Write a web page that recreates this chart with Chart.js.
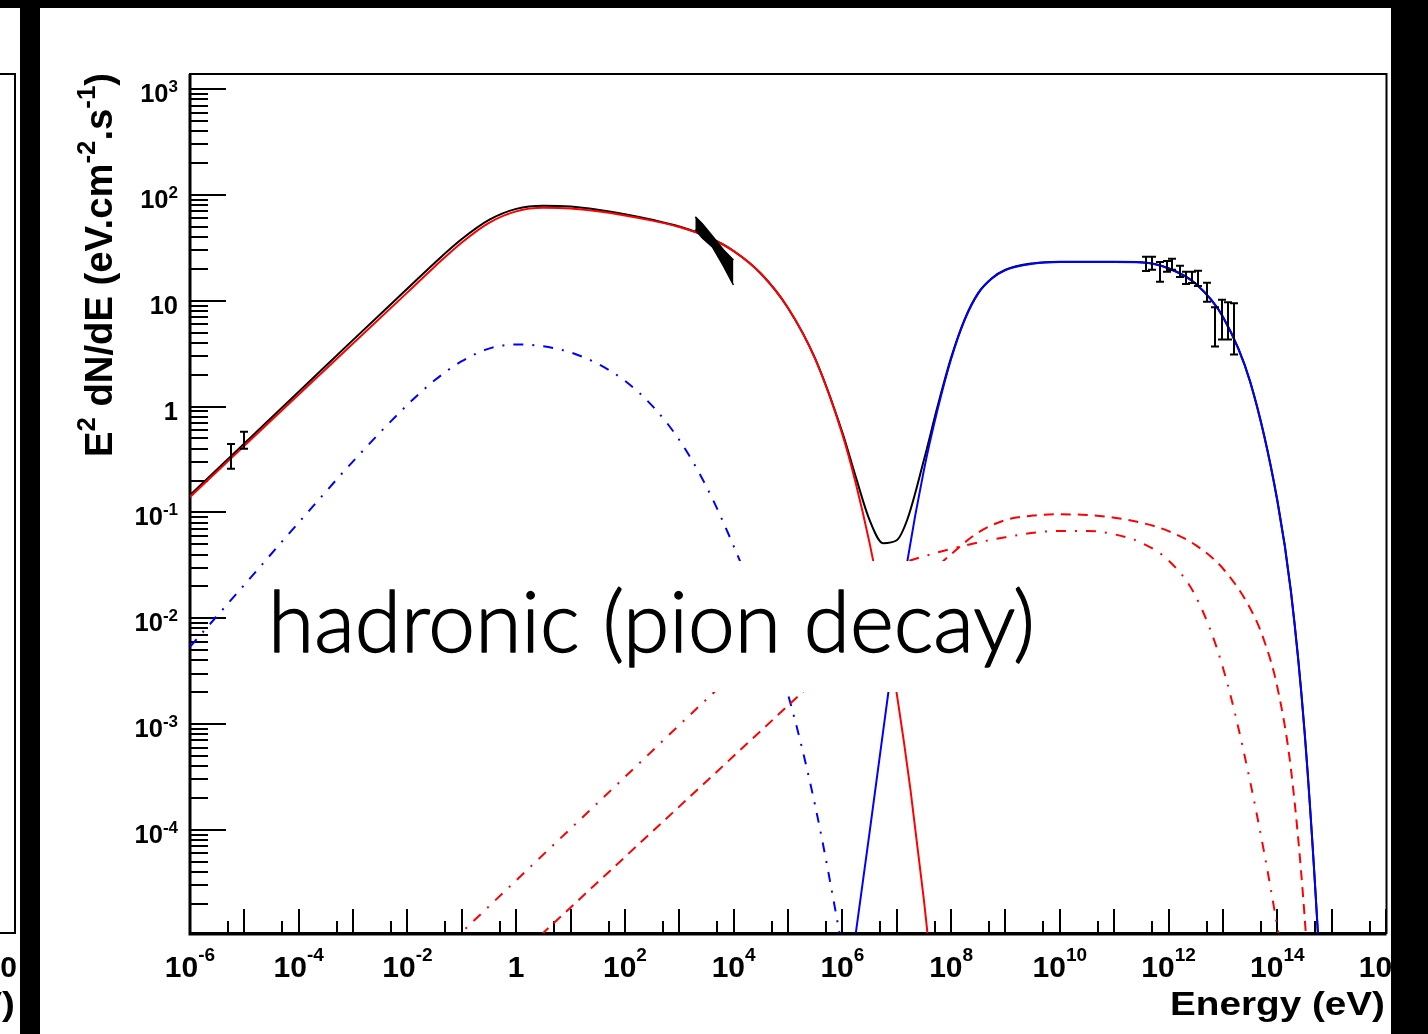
<!DOCTYPE html>
<html><head><meta charset="utf-8">
<script src="https://cdn.jsdelivr.net/npm/chart.js@4.4.1/dist/chart.umd.min.js"></script>
<style>html,body{margin:0;padding:0;background:#fff;overflow:hidden}canvas{display:block}</style>
</head><body>
<canvas id="c" width="1428" height="1034"></canvas>
<script>
// ---------- axis ticks / labels ----------
const xTickValues = [1e-6,1e-4,1e-2,1,1e2,1e4,1e6,1e8,1e10,1e12,1e14,1e16];
const xTickLabels = [["10","-6"],["10","-4"],["10","-2"],["1",""],["10","2"],["10","4"],["10","6"],["10","8"],["10","10"],["10","12"],["10","14"],["10","16"]];
const yTickValues = [1e-4,1e-3,1e-2,1e-1,1,10,100,1000];
const yTickLabels = [["10","-4"],["10","-3"],["10","-2"],["10","-1"],["1",""],["10",""],["10","2"],["10","3"]];
const xTitle = "Energy (eV)";
const yTitleParts = [["E",0],["2",1],[" dN/dE (eV.cm",0],["-2",1],[".s",0],["-1",1],[")",0]];
const overlayText = "hadronic (pion decay)";

// ---------- model curves (E in eV, E^2 dN/dE in eV cm^-2 s^-1) ----------
const totalE = [1e-6,1e-5,1e-4,1e-3,1e-2,0.0316,0.1,0.316,1,3.16,10,31.6,100,316,1e3,3.16e3,1e4,3.16e4,1e5,3.16e5,1e6,1.78e6,3.16e6,5.62e6,1e7,1.57e7,3.16e7,5.62e7,1e8,1.78e8,3.16e8,5.62e8,1e9,3.16e9,1e10,1e11,3.16e11,1e12,3.16e12,1e13,3.16e13,1e14,1.78e14,3.16e14,5.62e14,1e15];
const totalF = [0.1454,0.448,1.38,4.27,13.04,22.8,38.3,58.1,73.9,79.2,77.75,72.5,65.75,58.2,50.3,40.7,29.55,18.1,8.56,2.84,0.569,0.213,0.085,0.0512,0.0546,0.0861,0.312,1.0,2.9,6.71,11.87,16.33,19.64,22.56,23.36,23.35,23.13,20.3,14.5,7.07,1.73,0.131,0.0181,8.8e-4,1e-5,3.2e-8];

const synchE = [1e-6,1e-4,1e-2,0.0316,0.1,0.316,1,3.16,10,31.6,100,316,1e3,3.16e3,1e4,3.16e4,1e5,3.16e5,1e6,1.78e6,3.16e6,5.62e6,1e7,1.78e7,3.16e7,5.62e7];
const synchF = [0.14,1.3,12,21,35.6,54.6,70,75.5,74.5,70,64,57.2,49.8,40.5,29.5,18.1,8.55,2.82,0.546,0.185,0.0515,0.0114,0.00194,2.44e-4,2.17e-5,1.37e-6];

const pionE = [1e6,1.74e6,3.16e6,7.03e6,1e7,1.57e7,3.16e7,5.62e7,1e8,1.78e8,3.16e8,5.62e8,1e9,3.16e9,1e10,1e11,3.16e11,1e12,3.16e12,1e13,3.16e13,1e14,1.78e14,3.16e14,5.62e14,1e15];
const pionF = [1.15e-6,1e-5,9.4e-5,0.00201,0.00726,0.0348,0.251,0.931,2.82,6.61,11.75,16.2,19.5,22.4,23.2,23.2,23.0,20.2,14.45,7.04,1.72,0.129,0.0177,8.6e-4,1e-5,3.2e-8];

const secSynchE = [1e-6,1e-5,6.3e-5,1e-4,1e-3,1e-2,0.0316,0.1,0.316,1,3.16,10,31.6,100,316,1e3,3.16e3,1e4,3.16e4,1e5,3.16e5,1e6,3.16e6];
const secSynchF = [0.00537,0.0207,0.0612,0.0802,0.304,1.04,1.77,2.69,3.53,3.87,3.72,3.25,2.54,1.75,1.02,0.484,0.175,0.0481,0.011,0.0019,1.69e-4,7.5e-6,2.5e-7];

const icE = [1,100,1e4,1e6,1e8,3.16e8,1e9,3.16e9,1e10,3.16e10,1e11,3.16e11,1e12,3.16e12,1e13,3.16e13,5.62e13,1e14,1.78e14,3.16e14,5.62e14];
const icF = [6.15e-6,5.54e-5,4.98e-4,0.00448,0.0403,0.0646,0.0846,0.0933,0.096,0.0944,0.0891,0.0799,0.0665,0.049,0.0295,0.01245,0.00632,0.00224,3.77e-4,1.58e-5,1.26e-7];

const bremE = [0.026,1,100,3.16e3,3.16e4,3.16e5,3.16e6,1e7,1e8,1e9,1e10,3.16e10,1e11,3.16e11,1e12,3.16e12,1e13,3.16e13,1e14,3.16e14];
const bremF = [5.58e-6,3.33e-5,3.16e-4,0.00171,0.0051,0.0131,0.0256,0.032,0.0452,0.0583,0.0669,0.0669,0.0621,0.0516,0.0351,0.0161,0.00341,2.87e-4,1.21e-5,2.4e-7];

// ---------- measurements ----------
const xrayE = [1.97e3,2.65e3,4.06e3,6.47e3,9.9e3];
const xrayUpper = [62.1,53.3,41.0,30.3,24.3];
const xrayLower = [46.8,39.3,32.3,21.4,14.1];

const radioE = [5.7e-6,9.9e-6];
const radioF = [0.335,0.485];
const radioLo = [0.258,0.40];
const radioHi = [0.444,0.577];

const tevE = [3.8e11,4.9e11,7.1e11,9.2e11,1.18e12,1.65e12,2.13e12,2.75e12,3.5e12,5.2e12,7.0e12,9.8e12,1.26e13,1.63e13];
const tevF = [22.3,22.6,18.8,21.1,22.1,19.0,16.4,16.6,16.3,12.0,5.7,6.6,6.5,5.4];
const tevLo = [19.1,19.6,15.1,18.8,19.6,16.8,14.4,14.7,13.8,9.8,3.7,4.3,4.3,3.1];
const tevHi = [26.0,26.0,23.3,23.7,24.9,21.4,18.8,18.8,19.2,14.8,8.7,10.2,9.7,9.5];

// ---------- helpers ----------
const FONT = '"Liberation Sans", Arial, Helvetica, sans-serif';
function pts(E, F){ return E.map((e,i)=>({x:e,y:F[i]})); }
function curve(E, F, color, dash){
  return {data:pts(E,F), borderColor:color, backgroundColor:color, borderWidth:2, borderDash:dash||[],
          pointRadius:0, fill:false, cubicInterpolationMode:'monotone'};
}

function supLabel(ctx, base, exp, x, y, fb, fe, rise, align){
  ctx.font = 'bold '+fb+'px '+FONT;
  const wb = ctx.measureText(base).width;
  ctx.font = 'bold '+fe+'px '+FONT;
  const we = exp ? ctx.measureText(exp).width : 0;
  const tw = wb + we;
  const sx = align === 'center' ? x - tw/2 : x - tw;
  ctx.textAlign = 'left'; ctx.textBaseline = 'alphabetic';
  ctx.font = 'bold '+fb+'px '+FONT;
  ctx.fillText(base, sx, y);
  if (exp){ ctx.font = 'bold '+fe+'px '+FONT; ctx.fillText(exp, sx+wb, y-rise); }
}

const rootPlugin = {
  id:'rootStyle',
  beforeDatasetsDraw(chart){
    const {ctx, chartArea:a, scales:{x,y}} = chart;
    ctx.save();
    ctx.strokeStyle = '#000'; ctx.lineWidth = 2;
    ctx.strokeRect(a.left, a.top, a.right-a.left, a.bottom-a.top);
    ctx.beginPath();
    for (let e=-5; e<=3; e++){
      for (let m=1; m<=9; m++){
        const v = m*Math.pow(10,e);
        if (v < y.min || v > y.max) continue;
        const py = Math.round(y.getPixelForValue(v));
        const len = m===1 ? 36 : 18;
        ctx.moveTo(a.left, py); ctx.lineTo(a.left+len, py);
      }
    }
    for (let e=-6; e<=16; e++){
      for (const m of [1,5]){
        const v = m*Math.pow(10,e);
        if (v < x.min || v > x.max) continue;
        const px = Math.round(x.getPixelForValue(v));
        const len = m===1 ? 24 : 12;
        ctx.moveTo(px, a.bottom); ctx.lineTo(px, a.bottom-len);
      }
    }
    ctx.stroke();
    ctx.lineWidth = 3;
    ctx.beginPath();
    ctx.moveTo(a.left, a.top); ctx.lineTo(a.left, a.bottom+1); ctx.lineTo(a.right, a.bottom+1);
    ctx.stroke();
    ctx.restore();
  },
  afterDatasetsDraw(chart){
    const {ctx, chartArea:a, scales:{x,y}} = chart;
    ctx.save();
    ctx.beginPath(); ctx.rect(a.left, a.top, a.right-a.left, a.bottom-a.top); ctx.clip();
    ctx.strokeStyle = '#000'; ctx.lineWidth = 2;
    const bars = (E, lo, hi) => {
      ctx.beginPath();
      E.forEach((e,i)=>{
        const px = Math.round(x.getPixelForValue(e));
        const pl = y.getPixelForValue(lo[i]), ph = y.getPixelForValue(hi[i]);
        ctx.moveTo(px, ph); ctx.lineTo(px, pl);
        ctx.moveTo(px-4, ph); ctx.lineTo(px+4, ph);
        ctx.moveTo(px-4, pl); ctx.lineTo(px+4, pl);
      });
      ctx.stroke();
    };
    bars(radioE, radioLo, radioHi);
    bars(tevE, tevLo, tevHi);
    ctx.restore();
    // overlay label box
    ctx.save();
    ctx.fillStyle = '#fff';
    ctx.fillRect(264, 561, 782, 131);
    ctx.fillStyle = '#000'; ctx.strokeStyle = '#000';
    ctx.font = '300 84px Lato, "Open Sans", sans-serif';
    ctx.textAlign = 'left'; ctx.textBaseline = 'alphabetic';
    const w = ctx.measureText(overlayText).width;
    ctx.translate(268, 652); ctx.scale(767/w, 1);
    ctx.fillText(overlayText, 0, 0);
    ctx.lineWidth = 1.3; ctx.lineJoin = 'round';
    ctx.strokeText(overlayText, 0, 0);
    ctx.restore();
  },
  afterDraw(chart){
    const {ctx, scales:{x,y}} = chart;
    ctx.save();
    ctx.fillStyle = '#000';
    xTickValues.forEach((v,i)=>{
      supLabel(ctx, xTickLabels[i][0], xTickLabels[i][1], x.getPixelForValue(v), 977, 30, 19, 16, 'center');
    });
    yTickValues.forEach((v,i)=>{
      supLabel(ctx, yTickLabels[i][0], yTickLabels[i][1], 178, y.getPixelForValue(v)+13, 25.5, 17, 10, 'right');
    });
    ctx.save();
    ctx.font = 'bold 32.5px '+FONT;
    ctx.textAlign = 'right';
    let w = ctx.measureText(xTitle).width;
    ctx.translate(1385, 1015); ctx.scale(215/w, 1);
    ctx.fillText(xTitle, 0, 0);
    ctx.restore();
    ctx.save();
    const fN = 'bold 34px '+FONT, fS = 'bold 23px '+FONT;
    let tot = 0;
    yTitleParts.forEach(p=>{ ctx.font = p[1]?fS:fN; tot += ctx.measureText(p[0]).width; });
    ctx.translate(112, 457); ctx.rotate(-Math.PI/2); ctx.scale(384/tot, 1.15);
    ctx.textAlign = 'left';
    let cx = 0;
    yTitleParts.forEach(p=>{
      ctx.font = p[1]?fS:fN;
      ctx.fillText(p[0], cx, p[1] ? -15 : 0);
      cx += ctx.measureText(p[0]).width;
    });
    ctx.restore();
    // neighbouring panel fragment on the far left
    ctx.lineWidth = 2; ctx.strokeStyle = '#000';
    ctx.beginPath();
    ctx.moveTo(0, 74); ctx.lineTo(15, 74); ctx.lineTo(15, 933); ctx.lineTo(0, 933);
    ctx.stroke();
    supLabel(ctx, "10", "", 17, 977, 30, 19, 16, 'right');
    ctx.save();
    ctx.font = 'bold 32.5px '+FONT; ctx.textAlign = 'right';
    w = ctx.measureText(xTitle).width;
    ctx.translate(15, 1015); ctx.scale(215/w, 1);
    ctx.fillText(xTitle, 0, 0);
    ctx.restore();
    // black page borders
    ctx.fillStyle = '#000';
    ctx.fillRect(0, 0, 1428, 8);
    ctx.fillRect(20, 0, 20, 1034);
    ctx.fillRect(1391, 0, 37, 1034);
    ctx.restore();
  }
};

new Chart(document.getElementById('c'), {
  type:'line',
  data:{datasets:[
    {data:pts(xrayE, xrayUpper), borderColor:'#000', backgroundColor:'#000', borderWidth:1.5, pointRadius:0, tension:0, fill:'+1'},
    {data:pts(xrayE, xrayLower), borderColor:'#000', backgroundColor:'#000', borderWidth:1.5, pointRadius:0, tension:0, fill:false},
    curve(pionE, pionF, '#0000ff'),
    curve(synchE, synchF, '#ff0000'),
    curve(icE, icF, '#ff0000', [10,7]),
    curve(bremE, bremF, '#ff0000', [10,9,2,9]),
    curve(secSynchE, secSynchF, '#0000ff', [10,9,2,9]),
    curve(totalE, totalF, '#000000')
  ]},
  options:{
    responsive:false, animation:false, devicePixelRatio:1,
    layout:{padding:{left:190, top:74, right:41.5, bottom:101}},
    plugins:{legend:{display:false}, tooltip:{enabled:false}},
    events:[],
    scales:{
      x:{type:'logarithmic', min:1e-6, max:1.02e16, display:false},
      y:{type:'logarithmic', min:1.06e-5, max:1390, display:false}
    }
  },
  plugins:[rootPlugin]
});
</script>
</body></html>
